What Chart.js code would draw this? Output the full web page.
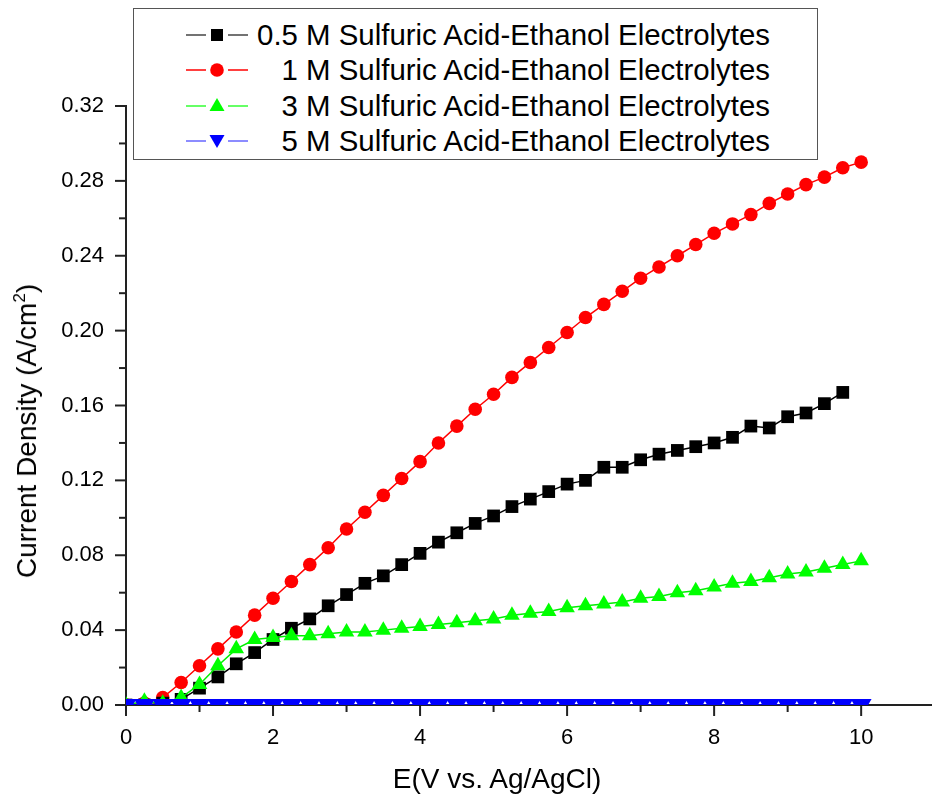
<!DOCTYPE html>
<html lang="en">
<head>
    <meta charset="UTF-8">
    <title>Current Density vs. Potential</title>

    <!-- Chart.js from CDN -->
    <script src="https://cdn.jsdelivr.net/npm/chart.js"></script>

    <style>
        body {
            margin: 0;
            background: #ffffff;
            font-family: "Liberation Sans", Arial, sans-serif;
            color: #000;
        }

        .wrap {
            position: relative;
            width: 933px;
            height: 798px;
        }

        /* legend box drawn over the plot, like the original figure */
        .legend {
            position: absolute;
            left: 133px;
            top: 8px;
            width: 685px;
            height: 152px;
            border: 1.5px solid #555;
            background: #fff;
            padding-top: 8px;
            box-sizing: border-box;
        }

        .legend .row {
            position: relative;
            height: 35.3px;
            line-height: 35.3px;
            font-size: 29.4px;
            white-space: nowrap;
        }

        .legend svg {
            position: absolute;
            left: 52px;
            top: 7px;
        }

        .legend .label {
            position: absolute;
            right: 47px;
            top: 0;
        }

        .axis-title {
            position: absolute;
            font-size: 28px;
            white-space: nowrap;
            transform: translate(-50%, -50%);
        }

        .axis-title.y {
            transform: translate(-50%, -50%) rotate(-90deg);
        }

        .axis-title sup {
            font-size: 17px;
            vertical-align: 11px;
            line-height: 0;
        }
    </style>
</head>
<body>

<div class="wrap">
    <canvas id="ivChart" width="933" height="798"></canvas>

    <div class="legend" id="legend"></div>

    <div class="axis-title y" style="left: 27px; top: 431px;">Current Density (A/cm<sup>2</sup>)</div>
    <div class="axis-title" style="left: 497px; top: 779px;">E(V vs. Ag/AgCl)</div>
</div>

<script>
    // potential (V vs. Ag/AgCl), 0.25 V steps
    const potential = [0, 0.25, 0.5, 0.75, 1, 1.25, 1.5, 1.75, 2, 2.25, 2.5, 2.75, 3, 3.25, 3.5, 3.75,
        4, 4.25, 4.5, 4.75, 5, 5.25, 5.5, 5.75, 6, 6.25, 6.5, 6.75, 7, 7.25, 7.5, 7.75,
        8, 8.25, 8.5, 8.75, 9, 9.25, 9.5, 9.75, 10];

    // current density (A/cm2)
    const halfMolar = [0, 0, 0.001, 0.003, 0.009, 0.015, 0.022, 0.028, 0.035, 0.041, 0.046, 0.053,
        0.059, 0.065, 0.069, 0.075, 0.081, 0.087, 0.092, 0.097, 0.101, 0.106, 0.110, 0.114,
        0.118, 0.120, 0.127, 0.127, 0.131, 0.134, 0.136, 0.138, 0.140, 0.143, 0.149, 0.148,
        0.154, 0.156, 0.161, 0.167];

    const oneMolar = [0, 0.001, 0.004, 0.012, 0.021, 0.030, 0.039, 0.048, 0.057, 0.066, 0.075, 0.084,
        0.094, 0.103, 0.112, 0.121, 0.130, 0.140, 0.149, 0.158, 0.166, 0.175, 0.183, 0.191,
        0.199, 0.207, 0.214, 0.221, 0.228, 0.234, 0.240, 0.246, 0.252, 0.257, 0.262, 0.268,
        0.273, 0.278, 0.282, 0.287, 0.290];

    const threeMolar = [0, 0.002, 0.001, 0.004, 0.011, 0.021, 0.030, 0.035, 0.036, 0.037, 0.037, 0.038,
        0.039, 0.039, 0.040, 0.041, 0.042, 0.043, 0.044, 0.045, 0.046, 0.048, 0.049, 0.050,
        0.052, 0.053, 0.054, 0.055, 0.057, 0.058, 0.060, 0.061, 0.063, 0.065, 0.066, 0.068,
        0.070, 0.071, 0.073, 0.075, 0.077];

    const fiveMolar = [0, 0, 0, 0, 0, 0, 0, 0, 0, 0, 0, 0, 0, 0, 0, 0, 0, 0, 0, 0, 0,
        0, 0, 0, 0, 0, 0, 0, 0, 0, 0, 0, 0, 0, 0, 0, 0, 0, 0, 0, 0];

    const seriesNames = [
        '0.5 M Sulfuric Acid-Ethanol Electrolytes',
        '1 M Sulfuric Acid-Ethanol Electrolytes',
        '3 M Sulfuric Acid-Ethanol Electrolytes',
        '5 M Sulfuric Acid-Ethanol Electrolytes'
    ];

    const xTickValues = [0, 2, 4, 6, 8, 10];
    const yTickValues = [0, 0.04, 0.08, 0.12, 0.16, 0.20, 0.24, 0.28, 0.32];

    const axisColor = '#222';
    const tickFont = { family: '"Liberation Sans", Arial, sans-serif', size: 22 };

    function toPoints(values) {
        return values.map((v, i) => ({ x: potential[i], y: v }));
    }

    // short minor / long major tick marks pointing outwards
    const tickMarks = {
        id: 'tickMarks',
        afterDraw(chart) {
            const ctx = chart.ctx;
            const area = chart.chartArea;
            const xs = chart.scales.x;
            const ys = chart.scales.y;
            ctx.save();
            ctx.strokeStyle = axisColor;
            ctx.lineWidth = 2;
            xs.ticks.forEach(t => {
                const px = xs.getPixelForValue(t.value);
                const len = xTickValues.includes(t.value) ? 11 : 7;
                ctx.beginPath();
                ctx.moveTo(px, area.bottom);
                ctx.lineTo(px, area.bottom + len);
                ctx.stroke();
            });
            ys.ticks.forEach(t => {
                const py = ys.getPixelForValue(t.value);
                const major = yTickValues.some(v => Math.abs(v - t.value) < 1e-6);
                const len = major ? 11 : 7;
                ctx.beginPath();
                ctx.moveTo(area.left, py);
                ctx.lineTo(area.left - len, py);
                ctx.stroke();
            });
            ctx.restore();
        }
    };

    const datasets = [
        {
            label: seriesNames[0],
            data: toPoints(halfMolar),
            borderColor: '#000000',
            backgroundColor: '#000000',
            pointStyle: 'rect',
            pointRadius: 9,
            order: 2
        },
        {
            label: seriesNames[1],
            data: toPoints(oneMolar),
            borderColor: '#ff0000',
            backgroundColor: '#ff0000',
            pointStyle: 'circle',
            pointRadius: 6.8,
            order: 3
        },
        {
            label: seriesNames[2],
            data: toPoints(threeMolar),
            borderColor: '#00ee00',
            backgroundColor: '#00ff00',
            pointStyle: 'triangle',
            pointRadius: 9,
            order: 1
        },
        {
            label: seriesNames[3],
            data: toPoints(fiveMolar),
            borderColor: '#0000ff',
            backgroundColor: '#0000ff',
            pointStyle: 'triangle',
            pointRotation: 180,
            pointRadius: 12,
            order: 0
        }
    ];

    datasets.forEach(d => {
        d.borderWidth = 1.5;
        d.pointBorderWidth = 0;
        d.pointHoverRadius = d.pointRadius;
        d.tension = 0;
    });

    new Chart(document.getElementById('ivChart'), {
        type: 'line',
        data: { datasets: datasets },
        options: {
            responsive: false,
            animation: false,
            layout: {
                autoPadding: false,
                padding: { top: 106, right: 2, left: 0, bottom: 0 }
            },
            plugins: {
                legend: { display: false },
                tooltip: { enabled: false }
            },
            scales: {
                x: {
                    type: 'linear',
                    min: 0,
                    max: 10.95,
                    grid: { display: false, drawTicks: false },
                    border: { display: true, color: axisColor, width: 2 },
                    ticks: {
                        stepSize: 1,
                        includeBounds: false,
                        autoSkip: false,
                        maxRotation: 0,
                        padding: 20,
                        color: '#000',
                        font: tickFont,
                        callback: v => xTickValues.includes(v) ? String(v) : ''
                    },
                    afterFit(scale) {
                        scale.height = 93;
                        scale.paddingLeft = 0;
                        scale.paddingRight = 0;
                    }
                },
                y: {
                    min: 0,
                    max: 0.32,
                    grid: { display: false, drawTicks: false },
                    border: { display: true, color: axisColor, width: 2 },
                    ticks: {
                        stepSize: 0.02,
                        autoSkip: false,
                        padding: 22,
                        color: '#000',
                        font: tickFont,
                        callback: v => yTickValues.some(t => Math.abs(t - v) < 1e-6) ? v.toFixed(2) : ''
                    },
                    afterFit(scale) { scale.width = 126; }
                }
            }
        },
        plugins: [tickMarks]
    });

    // legend rows: line - marker - line, then the series name
    const markerSvg = [
        '<rect x="25" y="5" width="12" height="12" fill="#000"/>',
        '<circle cx="31" cy="11" r="6.8" fill="#ff0000"/>',
        '<polygon points="31,3 38.5,16 23.5,16" fill="#00ff00"/>',
        '<polygon points="23.5,5 38.5,5 31,18" fill="#0000ff"/>'
    ];
    const legendLine = ['#444', '#ff0000', '#33ff33', '#6666ff'];

    const legendBox = document.getElementById('legend');
    seriesNames.forEach((name, i) => {
        const row = document.createElement('div');
        row.className = 'row';
        row.innerHTML =
            '<svg width="62" height="22" viewBox="0 0 62 22">' +
            '<line x1="0" y1="11" x2="20" y2="11" stroke="' + legendLine[i] + '" stroke-width="1.5"/>' +
            '<line x1="42" y1="11" x2="62" y2="11" stroke="' + legendLine[i] + '" stroke-width="1.5"/>' +
            markerSvg[i] + '</svg>' +
            '<span class="label">' + name + '</span>';
        legendBox.appendChild(row);
    });
</script>

</body>
</html>
